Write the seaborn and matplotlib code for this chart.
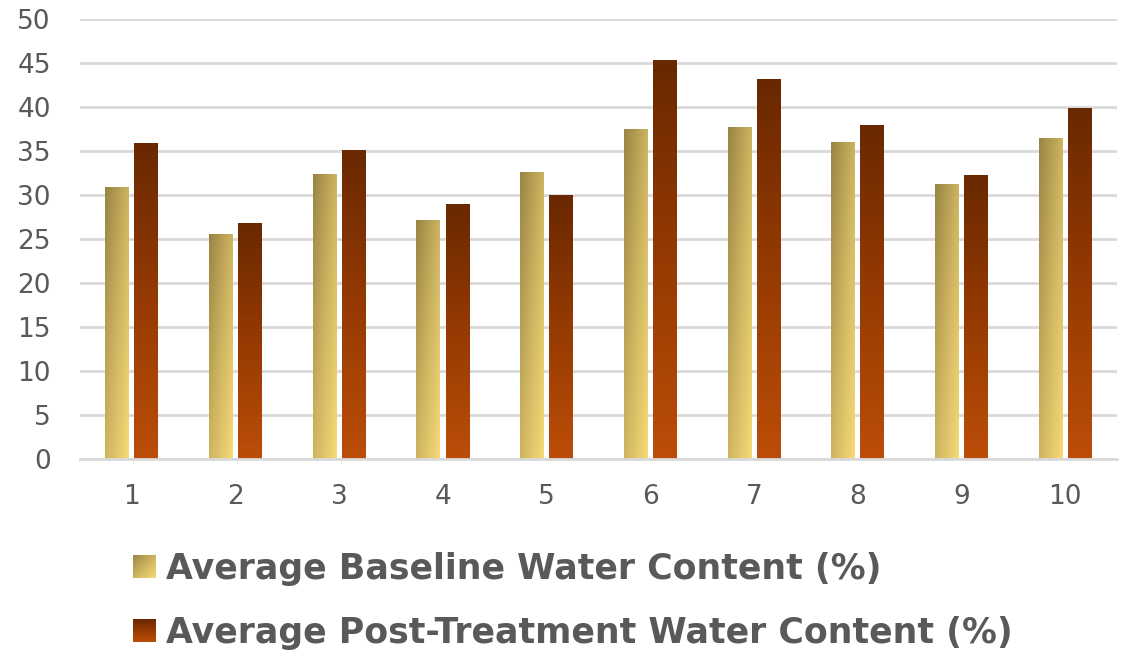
import numpy as np
import pandas as pd
import matplotlib
matplotlib.use("Agg")
import matplotlib.pyplot as plt
import seaborn as sns
from matplotlib.colors import LinearSegmentedColormap
from matplotlib.legend_handler import HandlerBase
from matplotlib.patches import Rectangle
from matplotlib.image import BboxImage
from matplotlib.transforms import Bbox, TransformedBbox

categories = ["1", "2", "3", "4", "5", "6", "7", "8", "9", "10"]
baseline = [30.9, 25.6, 32.4, 27.2, 32.6, 37.5, 37.7, 36.0, 31.3, 36.5]
post = [35.9, 26.8, 35.1, 29.0, 30.0, 45.3, 43.2, 38.0, 32.3, 39.9]
series_names = ["Average Baseline Water Content (%)",
                "Average Post-Treatment Water Content (%)"]
y_ticks = [0, 5, 10, 15, 20, 25, 30, 35, 40, 45, 50]

df = pd.DataFrame({
    "cat": categories * 2,
    "value": baseline + post,
    "series": [series_names[0]] * len(categories) + [series_names[1]] * len(categories),
})

sns.set_theme(style="white")
plt.rcParams["font.family"] = ["DejaVu Sans"]

TEXT = "#595959"
GRID = "#d9d9d9"

cmap_base = LinearSegmentedColormap.from_list("base", ["#9a8444", "#cdb460", "#f6d978"])
cmap_post = LinearSegmentedColormap.from_list("post", ["#6a2800", "#953a02", "#bb4d08"])


def diag_grad(n=64):
    x = np.linspace(0, 1, n)
    y = np.linspace(0, 1, n)
    X, Y = np.meshgrid(x, y)
    return (X + Y) / 2.0


def vert_grad(n=64):
    y = np.linspace(0, 1, n)[:, None]
    return np.repeat(y, 2, axis=1)


fig, ax = plt.subplots(figsize=(11.27, 6.56), dpi=100)
fig.subplots_adjust(left=0.071, right=0.991, top=0.971, bottom=0.30)

sns.barplot(data=df, x="cat", y="value", hue="series", order=categories,
            hue_order=series_names, width=0.56, gap=0.18,
            palette=["#cdb460", "#953a02"], ax=ax, legend=False,
            saturation=1, edgecolor="none")

ax.set_ylim(0, 50)
ax.set_yticks(y_ticks)
ax.set_xlim(-0.5, len(categories) - 0.5)
ax.yaxis.grid(True, color=GRID, linewidth=2)
ax.set_axisbelow(True)
for s in ["left", "right", "top"]:
    ax.spines[s].set_visible(False)
ax.spines["bottom"].set_color(GRID)
ax.spines["bottom"].set_linewidth(2)
ax.tick_params(axis="both", length=0, labelsize=19, colors=TEXT)
ax.tick_params(axis="x", pad=18)
ax.tick_params(axis="y", pad=21)
ax.set_xlabel("")
ax.set_ylabel("")

n = len(categories)
for i, patch in enumerate(ax.patches[:2 * n]):
    x0, y0 = patch.get_x(), patch.get_y()
    w, h = patch.get_width(), patch.get_height()
    if i < n:
        img, cm = diag_grad(), cmap_base
    else:
        img, cm = vert_grad(), cmap_post
    im = ax.imshow(img, cmap=cm, vmin=0, vmax=1, origin="upper",
                   extent=[x0, x0 + w, y0, y0 + h], aspect="auto",
                   interpolation="bilinear", zorder=patch.get_zorder())
    im.set_clip_path(patch)
    patch.set_facecolor("none")
ax.set_aspect("auto")
ax.set_xlim(-0.5, len(categories) - 0.5)
ax.set_ylim(0, 50)


class GradHandler(HandlerBase):
    def __init__(self, img, cmap):
        super().__init__()
        self.img = img
        self.cmap = cmap

    def create_artists(self, legend, orig_handle, xdescent, ydescent,
                       width, height, fontsize, trans):
        side = min(width, height)
        x = -xdescent + width - side
        y = -ydescent + (height - side) / 2
        bbox = TransformedBbox(Bbox.from_bounds(x, y, side, side), trans)
        bim = BboxImage(bbox, cmap=self.cmap, norm=plt.Normalize(0, 1),
                        interpolation="bilinear", origin="upper")
        bim.set_data(self.img)
        return [bim]


h1 = Rectangle((0, 0), 1, 1, color="#cdb460")
h2 = Rectangle((0, 0), 1, 1, color="#953a02")
leg = fig.legend([h1, h2], series_names, loc="upper left",
                 bbox_to_anchor=(0.118, 0.159), frameon=False, ncol=1,
                 prop={"size": 25, "weight": "bold"}, labelcolor=TEXT,
                 handlelength=0.66, handleheight=0.66, handletextpad=0.3,
                 labelspacing=0.86, borderpad=0, borderaxespad=0,
                 handler_map={h1: GradHandler(diag_grad(), cmap_base),
                              h2: GradHandler(vert_grad(), cmap_post)})

fig.savefig("out.png", dpi=100)
